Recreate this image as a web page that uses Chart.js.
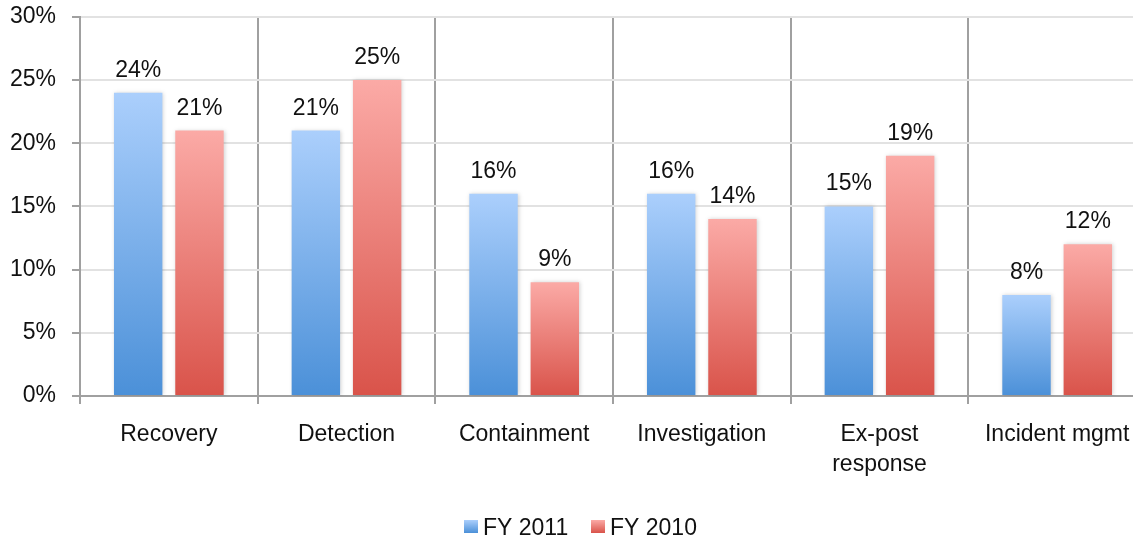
<!DOCTYPE html>
<html>
<head>
<meta charset="utf-8">
<script src="https://cdn.jsdelivr.net/npm/chart.js@4/dist/chart.umd.min.js"></script>
<style>
  html, body { margin: 0; padding: 0; background: #fff; overflow: hidden; }
  #wrap { width: 1146px; height: 551px; position: relative; margin-top: -13px; }
</style>
</head>
<body>
<div id="wrap"><canvas id="chart"></canvas></div>
<script>
const categories = ['Recovery', 'Detection', 'Containment', 'Investigation', ['Ex-post', 'response'], 'Incident mgmt'];
const fy2011 = [24, 21, 16, 16, 15, 8];
const fy2010 = [21, 25, 9, 14, 19, 12];
const seriesNames = ['FY 2011', 'FY 2010'];

const blueTop = '#abcffc', blueBottom = '#4b90d8';
const redTop = '#fbaaa6', redBottom = '#d9534a';
const fontFamily = '"Liberation Sans", Arial, sans-serif';

function barGradient(top, bottom) {
    return function(context) {
        const chart = context.chart;
        const area = chart.chartArea;
        if (!area || context.type !== 'data') return bottom;
        const y = chart.scales.y;
        const yTop = y.getPixelForValue(context.raw);
        const yBase = y.getPixelForValue(0);
        if (!isFinite(yTop) || yTop === yBase) return bottom;
        const g = chart.ctx.createLinearGradient(0, yTop, 0, yBase);
        g.addColorStop(0, top);
        g.addColorStop(1, bottom);
        return g;
    };
}

const shadowPlugin = {
    id: 'barShadow',
    beforeDatasetsDraw(chart) {
        const ctx = chart.ctx;
        ctx.save();
        ctx.shadowColor = 'rgba(0,0,0,0.18)';
        ctx.shadowBlur = 4;
        ctx.shadowOffsetX = 1;
        ctx.shadowOffsetY = 0;
    },
    afterDatasetsDraw(chart) {
        chart.ctx.restore();
    }
};

const valueLabels = {
    id: 'valueLabels',
    afterDatasetsDraw(chart) {
        const ctx = chart.ctx;
        ctx.save();
        ctx.font = '23px ' + fontFamily;
        ctx.fillStyle = '#111';
        ctx.textAlign = 'center';
        ctx.textBaseline = 'alphabetic';
        chart.data.datasets.forEach((ds, i) => {
            chart.getDatasetMeta(i).data.forEach((bar, j) => {
                ctx.fillText(ds.data[j] + '%', bar.x, bar.y - 16);
            });
        });
        ctx.restore();
    }
};

// legend drawn by hand so the swatch sits close to its text
const bottomLegend = {
    id: 'bottomLegend',
    afterDraw(chart) {
        const ctx = chart.ctx;
        const y = chart.height - 18;
        const items = [
            { x: 464, text: seriesNames[0], top: blueTop, bottom: blueBottom },
            { x: 591, text: seriesNames[1], top: redTop, bottom: redBottom }
        ];
        ctx.save();
        ctx.font = '23px ' + fontFamily;
        ctx.textBaseline = 'alphabetic';
        ctx.textAlign = 'left';
        items.forEach(item => {
            const g = ctx.createLinearGradient(0, y, 0, y + 13);
            g.addColorStop(0, item.top);
            g.addColorStop(1, item.bottom);
            ctx.fillStyle = g;
            ctx.fillRect(item.x, y, 14, 13);
            ctx.fillStyle = '#111';
            ctx.fillText(item.text, item.x + 19, y + 15);
        });
        ctx.restore();
    }
};

new Chart(document.getElementById('chart'), {
    type: 'bar',
    data: {
        labels: categories,
        datasets: [{
            label: seriesNames[0],
            data: fy2011,
            backgroundColor: barGradient(blueTop, blueBottom)
        }, {
            label: seriesNames[1],
            data: fy2010,
            backgroundColor: barGradient(redTop, redBottom)
        }]
    },
    options: {
        responsive: true,
        maintainAspectRatio: false,
        animation: false,
        categoryPercentage: 0.69,
        barPercentage: 0.79,
        layout: { padding: { left: 0, top: 5, right: 0, bottom: 32 } },
        plugins: {
            tooltip: { enabled: false },
            legend: { display: false }
        },
        scales: {
            x: {
                offset: true,
                afterFit: function(scale) {
                    scale.height = 110;
                },
                grid: {
                    offset: true,
                    color: '#a0a0a0',
                    lineWidth: 2,
                    tickLength: 8
                },
                border: { color: '#a0a0a0', width: 2 },
                ticks: {
                    color: '#111',
                    padding: 16,
                    maxRotation: 0,
                    autoSkip: false,
                    font: { size: 23, family: fontFamily, lineHeight: 1.3 }
                }
            },
            y: {
                min: 0,
                max: 30,
                afterFit: function(scale) {
                    scale.width = 80;
                },
                ticks: {
                    stepSize: 5,
                    color: '#111',
                    padding: 16,
                    font: { size: 23, family: fontFamily },
                    callback: value => value + '%'
                },
                grid: {
                    color: '#e2e2e2',
                    lineWidth: 2,
                    tickColor: '#a0a0a0',
                    tickLength: 8
                },
                border: { color: '#a0a0a0', width: 2 }
            }
        }
    },
    plugins: [shadowPlugin, valueLabels, bottomLegend]
});
</script>
</body>
</html>
